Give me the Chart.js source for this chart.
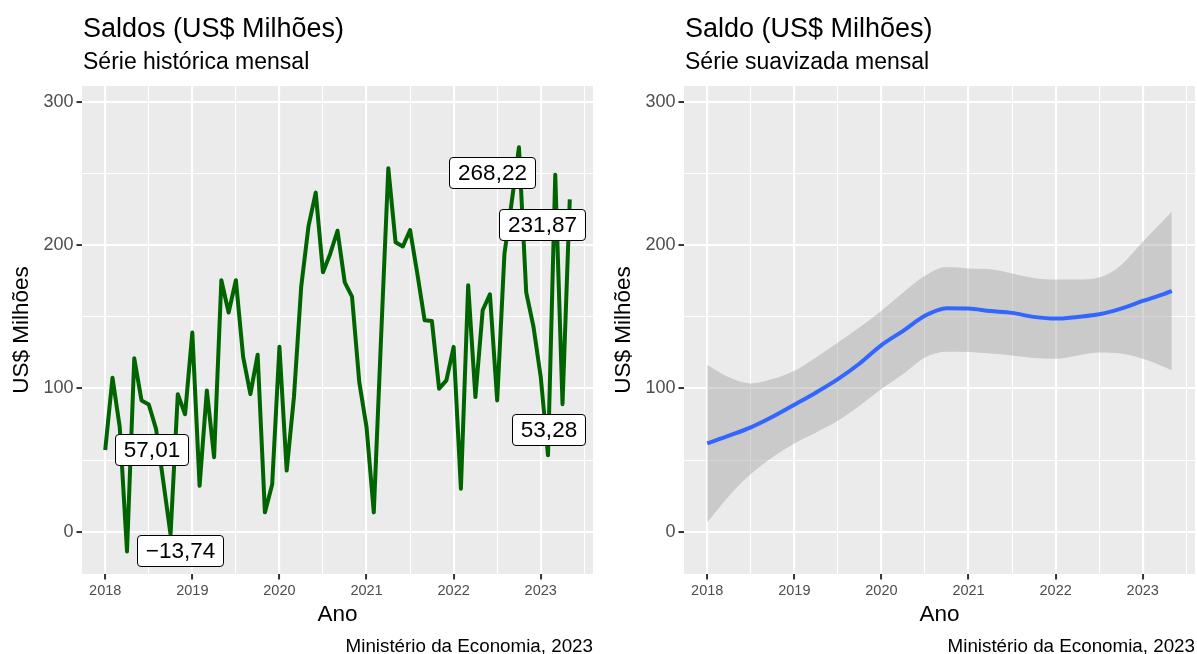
<!DOCTYPE html>
<html lang="pt-BR">
<head>
<meta charset="utf-8">
<title>Saldos (US$ Milhões)</title>
<script src="https://cdn.jsdelivr.net/npm/chart.js@4.4.1/dist/chart.umd.min.js"></script>
<style>
  html, body { margin: 0; padding: 0; background: #fff; }
  body { width: 1197px; height: 654px; position: relative; overflow: hidden; font-family: "Liberation Sans", Arial, sans-serif; color: #000; }
  .painel { position: absolute; top: 0; width: 598px; height: 654px; }
  .painel canvas { position: absolute; left: 0; top: 0; }
  .titulo { position: absolute; left: 83px; top: 15px; font-size: 27px; line-height: 27px; white-space: nowrap; }
  .subtitulo { position: absolute; left: 83px; top: 50px; font-size: 23px; line-height: 23px; white-space: nowrap; }
  .fonte { position: absolute; right: 5px; top: 637px; font-size: 18.8px; line-height: 18.8px; white-space: nowrap; }
</style>
</head>
<body>
<div class="painel" style="left:0">
  <canvas id="graficoSerie" width="598" height="654"></canvas>
  <div class="titulo">Saldos (US$ Milhões)</div>
  <div class="subtitulo">Série histórica mensal</div>
  <div class="fonte">Ministério da Economia, 2023</div>
</div>
<div class="painel" style="left:602px">
  <canvas id="graficoSuave" width="598" height="654"></canvas>
  <div class="titulo">Saldo (US$ Milhões)</div>
  <div class="subtitulo">Série suavizada mensal</div>
  <div class="fonte">Ministério da Economia, 2023</div>
</div>
<script>
// saldos mensais (US$ milhões), um vetor por ano
const anos = [2018, 2019, 2020, 2021, 2022, 2023];
const saldo2018 = [57.01, 107.5, 73, -13.74, 121, 91.6, 88.8, 71.8, 35, -2, 96, 82];
const saldo2019 = [139, 32, 98.6, 52, 175.5, 153, 175.5, 122, 96, 123.5, 13.5, 33];
const saldo2020 = [129, 42.7, 94, 171, 213, 236.6, 181, 194, 210, 174, 164, 104.4];
const saldo2021 = [73, 13.5, 135, 253.6, 202, 199, 210.5, 180, 147.6, 147, 99.8, 105.6];
const saldo2022 = [129, 30, 172, 94, 154.5, 165.7, 91.6, 194, 230, 268.22, 167, 143];
const saldo2023 = [108, 53.28, 249, 89, 231.87];
const saldosPorAno = [saldo2018, saldo2019, saldo2020, saldo2021, saldo2022, saldo2023];

// pontos com rótulo (primeiro, mínimo, máximo, menor de 2023, último)
const rotulosIndices = [0, 3, 57, 61, 64];

// curva suavizada (loess) e intervalo de confiança
const suavMeses = ["2018-01", "2018-04", "2018-07", "2018-10", "2019-01", "2019-04", "2019-07", "2019-10",
  "2020-01", "2020-04", "2020-07", "2020-10", "2021-01", "2021-04", "2021-07", "2021-10",
  "2022-01", "2022-04", "2022-07", "2022-10", "2023-01", "2023-04", "2023-05"];
const suavAjuste = [61.6, 67, 72.8, 80.2, 88.6, 97.2, 106.5, 117.4, 130.2, 140.2, 150.7, 156,
  155.7, 154, 152.7, 149.9, 148.7, 149.9, 151.7, 155.7, 161, 166, 168];
const suavInferior = [6.5, 25, 40.2, 51.9, 61.6, 69.3, 77.4, 87.9, 99.5, 110, 121.6, 125.5,
  125.4, 124.3, 123, 121.2, 120.7, 123, 125, 124.3, 120.7, 115, 112.6];
const suavSuperior = [116.3, 107.7, 103.5, 106.5, 112.3, 121.6, 132, 142.6, 154.2, 167, 178.6, 184.7,
  183.7, 183.2, 180.2, 177.1, 176, 176, 177.4, 186, 202.3, 218, 223.3];

// eixos
const marcasX = [2018, 2019, 2020, 2021, 2022, 2023];
const marcasXsecundarias = [2018.5, 2019.5, 2020.5, 2021.5, 2022.5, 2023.5];
const marcasY = [0, 100, 200, 300];
const marcasYsecundarias = [50, 150, 250];
const limitesY = [-29.5, 311];

Chart.defaults.font.family = '"Liberation Sans", Arial, sans-serif';

const formatoRotulo = new Intl.NumberFormat("pt-BR", { minimumFractionDigits: 2, maximumFractionDigits: 2 });

function mesParaAno(texto) {
  const [ano, mes] = texto.split("-").map(Number);
  return ano + (mes - 1) / 12;
}

const pontosSerie = anos.flatMap((ano, k) => saldosPorAno[k].map((valor, m) => ({ x: ano + m / 12, y: valor })));
const suavX = suavMeses.map(mesParaAno);

const xInicio = pontosSerie[0].x;
const xFim = pontosSerie[pontosSerie.length - 1].x;
const folgaX = (xFim - xInicio) * 0.05;

const ehMaior = (lista, valor) => lista.includes(valor);

function opcoesEscalas() {
  return {
    x: {
      type: "linear",
      min: xInicio - folgaX,
      max: xFim + folgaX,
      afterBuildTicks: (escala) => {
        escala.ticks = [...marcasX, ...marcasXsecundarias].sort((a, b) => a - b).map((v) => ({ value: v }));
      },
      afterFit: (escala) => { escala.height = 80; },
      ticks: {
        autoSkip: false, maxRotation: 0, padding: 3, color: "#4D4D4D", font: { size: 14.5 },
        callback: (v) => (ehMaior(marcasX, v) ? String(v) : ""),
      },
      grid: {
        color: "#FFFFFF",
        lineWidth: (c) => (c.tick && ehMaior(marcasX, c.tick.value) ? 2.1 : 1.05),
        tickColor: (c) => (c.tick && ehMaior(marcasX, c.tick.value) ? "#333333" : "rgba(0,0,0,0)"),
        tickWidth: 2, tickLength: 5.5,
      },
      border: { display: false },
      title: { display: true, text: "Ano", color: "#000", font: { size: 22.5 }, padding: { top: 0, bottom: 25.5 } },
    },
    y: {
      type: "linear",
      min: limitesY[0],
      max: limitesY[1],
      afterBuildTicks: (escala) => {
        escala.ticks = [...marcasY, ...marcasYsecundarias].sort((a, b) => a - b).map((v) => ({ value: v }));
      },
      afterFit: (escala) => { escala.width = 82; },
      ticks: {
        autoSkip: false, padding: 3, color: "#4D4D4D", font: { size: 18 },
        callback: (v) => (ehMaior(marcasY, v) ? String(v) : ""),
      },
      grid: {
        color: "#FFFFFF",
        lineWidth: (c) => (c.tick && ehMaior(marcasY, c.tick.value) ? 2.1 : 1.05),
        tickColor: (c) => (c.tick && ehMaior(marcasY, c.tick.value) ? "#333333" : "rgba(0,0,0,0)"),
        tickWidth: 2, tickLength: 5.5,
      },
      border: { display: false },
      title: { display: true, text: "US$ Milhões", color: "#000", font: { size: 22.5 }, padding: { top: 8, bottom: 0 } },
    },
  };
}

const fundoPainel = {
  id: "fundoPainel",
  beforeDraw(chart) {
    const { ctx, chartArea: a } = chart;
    ctx.save();
    ctx.fillStyle = "#EBEBEB";
    ctx.fillRect(a.left, a.top, a.right - a.left, a.bottom - a.top);
    ctx.restore();
  },
};

// deslocamento (px) de cada caixa em relação ao seu ponto, como o ggrepel deixou
const deslocamentos = { 0: [46.5, -0.5], 3: [52.7, -1], 57: [-27, 25.2], 61: [0.5, -26.3], 64: [-27.5, 24.6] };

const rotulosPontos = {
  id: "rotulosPontos",
  afterDatasetsDraw(chart) {
    const meta = chart.getDatasetMeta(0);
    const ctx = chart.ctx;
    ctx.save();
    ctx.font = '22.5px "Liberation Sans", Arial, sans-serif';
    ctx.textAlign = "center";
    ctx.textBaseline = "middle";
    rotulosIndices.forEach((i) => {
      const ponto = meta.data[i];
      const [dx, dy] = deslocamentos[i];
      const texto = formatoRotulo.format(pontosSerie[i].y).replace("-", "\u2212");
      const w = Math.round(ctx.measureText(texto).width + 17);
      const h = 31;
      const x = ponto.x + dx;
      const y = ponto.y + dy;
      const esq = Math.round(x - w / 2) + 0.5;
      const topo = Math.round(y - h / 2) + 0.5;
      ctx.beginPath();
      ctx.roundRect(esq, topo, w, h, 3.5);
      ctx.fillStyle = "#FFFFFF";
      ctx.fill();
      ctx.lineWidth = 1;
      ctx.strokeStyle = "#000000";
      ctx.stroke();
      ctx.fillStyle = "#000000";
      ctx.fillText(texto, esq + w / 2, topo + h / 2 + 1);
    });
    ctx.restore();
  },
};

const opcoesBase = () => ({
  responsive: false,
  animation: false,
  devicePixelRatio: 1,
  layout: { padding: { top: 86, right: 5, bottom: 0, left: 0 } },
  plugins: { legend: { display: false }, tooltip: { enabled: false }, title: { display: false } },
  scales: opcoesEscalas(),
});

new Chart(document.querySelector("#graficoSerie"), {
  type: "line",
  data: {
    datasets: [{
      data: pontosSerie,
      borderColor: "#006400",
      borderWidth: 4,
      borderJoinStyle: "round",
      pointRadius: 0,
      tension: 0,
      fill: false,
    }],
  },
  options: opcoesBase(),
  plugins: [fundoPainel, rotulosPontos],
});

new Chart(document.querySelector("#graficoSuave"), {
  type: "line",
  data: {
    datasets: [
      { data: suavX.map((x, i) => ({ x, y: suavAjuste[i] })), borderColor: "#3366FF", borderWidth: 4, pointRadius: 0, cubicInterpolationMode: "monotone", fill: false },
      { data: suavX.map((x, i) => ({ x, y: suavInferior[i] })), borderColor: "rgba(0,0,0,0)", borderWidth: 0, pointRadius: 0, cubicInterpolationMode: "monotone", fill: false },
      { data: suavX.map((x, i) => ({ x, y: suavSuperior[i] })), borderColor: "rgba(0,0,0,0)", borderWidth: 0, pointRadius: 0, cubicInterpolationMode: "monotone", fill: "-1", backgroundColor: "rgba(153,153,153,0.4)" },
    ],
  },
  options: opcoesBase(),
  plugins: [fundoPainel],
});
</script>
</body>
</html>
